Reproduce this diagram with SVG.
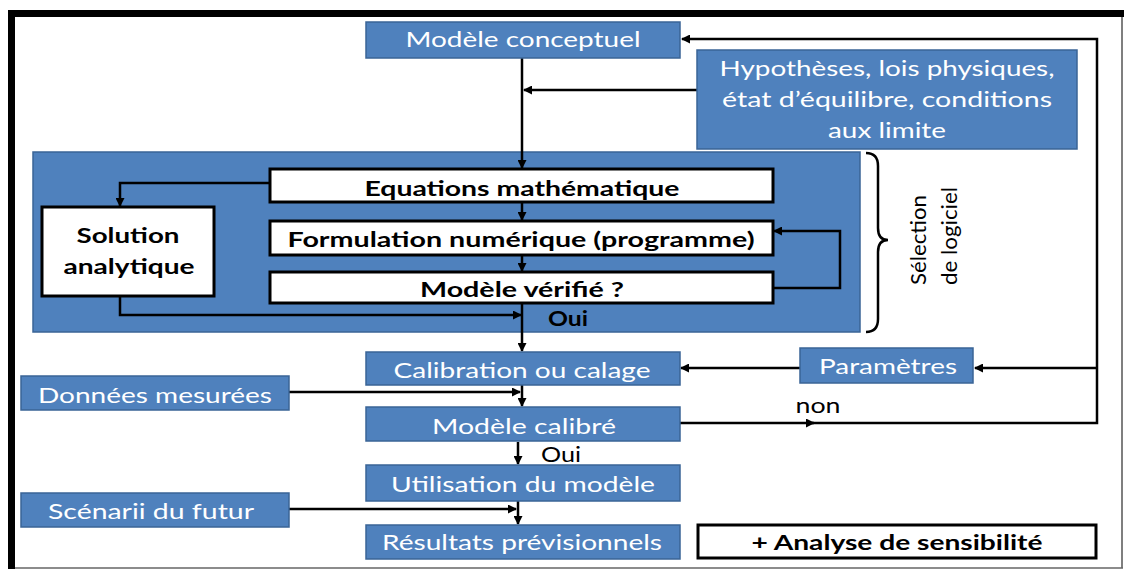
<svg xmlns="http://www.w3.org/2000/svg" width="1124" height="570" viewBox="0 0 1124 570">
  <style>
    .blue { fill: #4F81BD; stroke: #3A6496; stroke-width: 1.5; }
    .white { fill: #FFFFFF; stroke: #000000; stroke-width: 3; }
    .wt { fill: #FFFFFF; font-family: Lato, "Open Sans", "Liberation Sans", sans-serif; font-size: 22px; text-anchor: middle; }
    .bt { fill: #000000; font-family: Lato, "Open Sans", "Liberation Sans", sans-serif; font-size: 21px; font-weight: bold; text-anchor: middle; }
    .lbl { fill: #000000; font-family: Lato, "Open Sans", "Liberation Sans", sans-serif; font-size: 21px; text-anchor: middle; }
    .conn { fill: none; stroke: #000000; stroke-width: 2.5; }
    .arr { marker-end: url(#ah); }
  </style>
  <defs>
    <marker id="ah" markerUnits="userSpaceOnUse" markerWidth="9" markerHeight="9" refX="8" refY="4.5" orient="auto">
      <path d="M0,0 L9,4.5 L0,9 z" fill="#000000"/>
    </marker>
  </defs>

  <rect x="0" y="0" width="1124" height="570" fill="#FFFFFF"/>

  <!-- outer frame -->
  <g id="frame">
    <line x1="11.5" y1="10" x2="11.5" y2="569" stroke="#000000" stroke-width="7"/>
    <line x1="8" y1="13.5" x2="1124" y2="13.5" stroke="#000000" stroke-width="7"/>
    <line x1="1122" y1="17" x2="1122" y2="568" stroke="#555555" stroke-width="1.5"/>
    <line x1="15" y1="568" x2="1123" y2="568" stroke="#666666" stroke-width="1.5"/>
  </g>

  <!-- software block -->
  <g id="software-block">
    <rect class="blue" x="33" y="152" width="827" height="180"/>
  </g>

  <!-- connectors -->
  <g id="connectors">
    <path class="conn arr" d="M522,58 V168"/>
    <path class="conn arr" d="M697,90 H524"/>
    <path class="conn arr" d="M522,203 V220"/>
    <path class="conn arr" d="M522,256 V271"/>
    <path class="conn arr" d="M522,304 V351"/>
    <path class="conn arr" d="M270,183 H120 V206"/>
    <path class="conn arr" d="M120,296 V315 H521"/>
    <path class="conn arr" d="M773,288 H840 V231 H774"/>
    <path class="conn arr" d="M800,368 H681"/>
    <path class="conn arr" d="M1097,368 H975"/>
    <path class="conn arr" d="M289,392 H520"/>
    <path class="conn arr" d="M522,385 V406"/>
    <path class="conn arr" d="M518,442 V464"/>
    <path class="conn arr" d="M289,509 H516"/>
    <path class="conn arr" d="M518,501 V524"/>
    <path class="conn arr" d="M680,423 H814"/>
    <path class="conn arr" d="M812,423 H1097 V39 H682"/>
    <!-- brace -->
    <path class="conn" d="M866,153 Q878,153 878,166 V228 Q878,240 888,240 Q878,240 878,252 V319 Q878,332 866,332"/>
  </g>

  <g id="modele-conceptuel">
    <rect class="blue" x="366" y="22" width="314" height="36"/>
    <text class="wt" x="523" y="47" textLength="235" lengthAdjust="spacingAndGlyphs">Modèle conceptuel</text>
  </g>

  <g id="hypotheses">
    <rect class="blue" x="697" y="50" width="380" height="99"/>
    <text class="wt" x="887" y="76" textLength="335" lengthAdjust="spacingAndGlyphs">Hypothèses, lois physiques,</text>
    <text class="wt" x="887" y="107" textLength="330" lengthAdjust="spacingAndGlyphs">état d’équilibre, conditions</text>
    <text class="wt" x="887" y="138" textLength="118" lengthAdjust="spacingAndGlyphs">aux limite</text>
  </g>

  <g id="equations">
    <rect class="white" x="270" y="169" width="503" height="33"/>
    <text class="bt" x="522" y="196" textLength="315" lengthAdjust="spacingAndGlyphs">Equations mathématique</text>
  </g>

  <g id="formulation">
    <rect class="white" x="270" y="221" width="503" height="34"/>
    <text class="bt" x="521" y="247" textLength="467" lengthAdjust="spacingAndGlyphs">Formulation numérique (programme)</text>
  </g>

  <g id="modele-verifie">
    <rect class="white" x="270" y="272" width="503" height="31"/>
    <text class="bt" x="522" y="297" textLength="204" lengthAdjust="spacingAndGlyphs">Modèle vérifié ?</text>
  </g>

  <g id="solution-analytique">
    <rect class="white" x="42" y="207" width="172" height="89"/>
    <text class="bt" x="128" y="243" textLength="103" lengthAdjust="spacingAndGlyphs">Solution</text>
    <text class="bt" x="129" y="274" textLength="131" lengthAdjust="spacingAndGlyphs">analytique</text>
  </g>

  <g id="oui-verifie">
    <text class="bt" x="568" y="326" textLength="40" lengthAdjust="spacingAndGlyphs">Oui</text>
  </g>

  <g id="selection-logiciel">
    <text class="lbl" transform="translate(926,240) rotate(-90)" textLength="90" lengthAdjust="spacingAndGlyphs">Sélection</text>
    <text class="lbl" transform="translate(957,236) rotate(-90)" textLength="98" lengthAdjust="spacingAndGlyphs">de logiciel</text>
  </g>

  <g id="calibration">
    <rect class="blue" x="366" y="352" width="314" height="33"/>
    <text class="wt" x="522" y="378" textLength="257" lengthAdjust="spacingAndGlyphs">Calibration ou calage</text>
  </g>

  <g id="parametres">
    <rect class="blue" x="800" y="348" width="173" height="35"/>
    <text class="wt" x="888" y="374" textLength="138" lengthAdjust="spacingAndGlyphs">Paramètres</text>
  </g>

  <g id="donnees-mesurees">
    <rect class="blue" x="21" y="376" width="268" height="34"/>
    <text class="wt" x="155" y="403" textLength="234" lengthAdjust="spacingAndGlyphs">Données mesurées</text>
  </g>

  <g id="modele-calibre">
    <rect class="blue" x="366" y="407" width="314" height="34"/>
    <text class="wt" x="524" y="434" textLength="184" lengthAdjust="spacingAndGlyphs">Modèle calibré</text>
  </g>

  <g id="non-label">
    <text class="lbl" x="818" y="413" textLength="45" lengthAdjust="spacingAndGlyphs">non</text>
  </g>

  <g id="oui-calibre">
    <text class="lbl" x="561" y="462" textLength="40" lengthAdjust="spacingAndGlyphs">Oui</text>
  </g>

  <g id="utilisation">
    <rect class="blue" x="366" y="465" width="314" height="36"/>
    <text class="wt" x="523" y="492" textLength="264" lengthAdjust="spacingAndGlyphs">Utilisation du modèle</text>
  </g>

  <g id="scenarii">
    <rect class="blue" x="21" y="493" width="268" height="34"/>
    <text class="wt" x="151" y="519" textLength="206" lengthAdjust="spacingAndGlyphs">Scénarii du futur</text>
  </g>

  <g id="resultats">
    <rect class="blue" x="366" y="525" width="314" height="34"/>
    <text class="wt" x="522" y="550" textLength="280" lengthAdjust="spacingAndGlyphs">Résultats prévisionnels</text>
  </g>

  <g id="analyse-sensibilite">
    <rect class="white" x="698" y="525" width="398" height="33"/>
    <text class="bt" x="897" y="550" textLength="291" lengthAdjust="spacingAndGlyphs">+ Analyse de sensibilité</text>
  </g>
</svg>
